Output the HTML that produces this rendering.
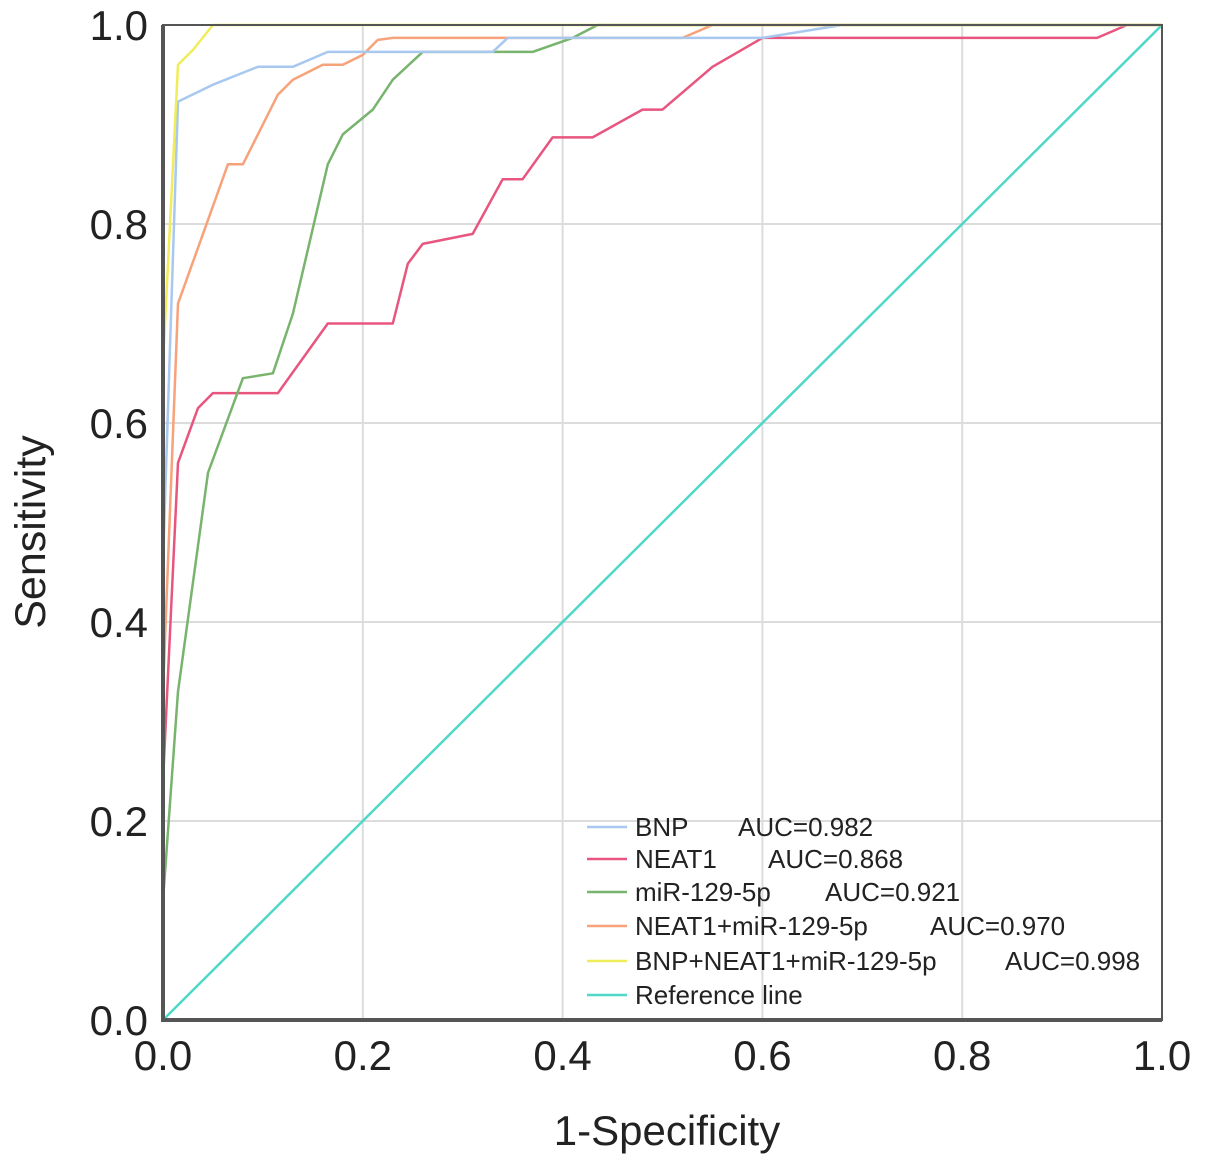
<!DOCTYPE html>
<html><head><meta charset="utf-8"><style>
html,body{margin:0;padding:0;background:#fff;}
svg{display:block;font-family:"Liberation Sans",Arial,sans-serif;}
</style></head><body>
<svg id="chart" width="1205" height="1166" viewBox="0 0 1205 1166"></svg>
<script>
const xTicks=[0,0.2,0.4,0.6,0.8,1.0];
const yTicks=[0,0.2,0.4,0.6,0.8,1.0];
const tickLabels=["0.0","0.2","0.4","0.6","0.8","1.0"];
const seriesNames=["BNP","NEAT1","miR-129-5p","NEAT1+miR-129-5p","BNP+NEAT1+miR-129-5p","Reference line"];
const aucLabels=["AUC=0.982","AUC=0.868","AUC=0.921","AUC=0.970","AUC=0.998",""];
const colors=["#a9c8f0","#e8557f","#78b46e","#f7a27a","#f0ec5a","#4fd8c8"];
const bnpX=[0,0,0.015,0.05,0.095,0.13,0.165,0.33,0.345,0.6,0.68,1];
const bnpY=[0,0.46,0.923,0.94,0.958,0.958,0.973,0.973,0.987,0.987,1,1];
const neatX=[0,0,0.015,0.035,0.05,0.115,0.165,0.23,0.245,0.26,0.31,0.34,0.36,0.39,0.43,0.48,0.5,0.55,0.6,0.935,0.965,1];
const neatY=[0,0.24,0.56,0.615,0.63,0.63,0.70,0.70,0.76,0.78,0.79,0.845,0.845,0.887,0.887,0.915,0.915,0.958,0.987,0.987,1,1];
const mirX=[0,0,0.015,0.045,0.08,0.11,0.13,0.165,0.18,0.21,0.23,0.26,0.37,0.41,0.435,1];
const mirY=[0,0.12,0.33,0.55,0.645,0.65,0.71,0.86,0.89,0.915,0.945,0.973,0.973,0.987,1,1];
const comboX=[0,0,0.015,0.04,0.065,0.08,0.095,0.115,0.13,0.16,0.18,0.2,0.215,0.23,0.52,0.55,1];
const comboY=[0,0.33,0.72,0.79,0.86,0.86,0.89,0.93,0.945,0.96,0.96,0.97,0.985,0.987,0.987,1,1];
const allX=[0,0,0.015,0.03,0.05,1];
const allY=[0,0.66,0.96,0.975,1,1];
const refX=[0,1];
const refY=[0,1];

const NS="http://www.w3.org/2000/svg";
const svg=document.getElementById('chart');
const X0=163,X1=1162,Y0=1020,Y1=25;
const sx=v=>X0+v*(X1-X0);
const sy=v=>Y0-v*(Y0-Y1);
function mk(tag,attrs,parent){const e=document.createElementNS(NS,tag);for(const k in attrs)e.setAttribute(k,attrs[k]);(parent||svg).appendChild(e);return e;}

const grid=mk('g',{});


xTicks.forEach(t=>{const l=mk('line',{x1:sx(t),x2:sx(t),y1:Y1,y2:Y0,stroke:'#dcdcdc','stroke-width':2},grid);

});
yTicks.forEach(t=>{const l=mk('line',{x1:X0,x2:X1,y1:sy(t),y2:sy(t),stroke:'#dcdcdc','stroke-width':2},grid);

});

const xs=[bnpX,neatX,mirX,comboX,allX,refX];
const ys=[bnpY,neatY,mirY,comboY,allY,refY];
const order=[5,1,2,3,0,4];
order.forEach(i=>{
  const d=xs[i].map((v,j)=>(j?'L':'M')+sx(v).toFixed(1)+' '+sy(ys[i][j]).toFixed(1)).join(' ');
  const p=mk('path',{d:d,fill:'none',stroke:colors[i],'stroke-width':2.5,'stroke-linejoin':'round'});
  
  
});

const frame=mk('rect',{x:X0,y:Y1,width:X1-X0,height:Y0-Y1,fill:'none',stroke:'#555','stroke-width':2});


const axL=mk('line',{x1:X0,x2:X0,y1:Y1,y2:Y0+2,stroke:'#555','stroke-width':4});


const axB=mk('line',{x1:X0-2,x2:X1,y1:Y0,y2:Y0,stroke:'#555','stroke-width':4});



xTicks.forEach((t,i)=>{const e=mk('text',{x:sx(t),y:1070,'font-size':42,'text-anchor':'middle',fill:'#222'});e.textContent=tickLabels[i];

});
yTicks.forEach((t,i)=>{const e=mk('text',{x:148,y:sy(t)+15,'font-size':42,'text-anchor':'end',fill:'#222'});e.textContent=tickLabels[i];

});

const xt=mk('text',{x:667,y:1145,'font-size':42,'text-anchor':'middle',fill:'#222'});xt.textContent='1-Specificity';


const yt=mk('text',{x:0,y:0,'font-size':43,'text-anchor':'middle',fill:'#222',transform:'translate(45 532) rotate(-90)'});yt.textContent='Sensitivity';



const aucXs=[738,768,825,930,1005,0];
const rowY=[827,859,892,926,961,995];
seriesNames.forEach((n,i)=>{
  const g=mk('g',{});
  
  
  mk('line',{x1:587,x2:627,y1:rowY[i],y2:rowY[i],stroke:colors[i],'stroke-width':2.5},g);
  const t=mk('text',{x:635,y:rowY[i]+9,'font-size':26,fill:'#222'},g);t.textContent=n;
  if(aucLabels[i]){const a=mk('text',{x:aucXs[i],y:rowY[i]+9,'font-size':26,fill:'#222'},g);a.textContent=aucLabels[i];}
});
</script>
</body></html>
